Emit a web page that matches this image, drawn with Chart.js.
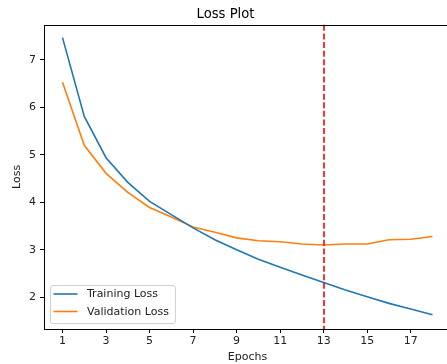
<!DOCTYPE html>
<html>
<head>
<meta charset="utf-8">
<script src="https://cdn.jsdelivr.net/npm/chart.js@4/dist/chart.umd.min.js"></script>
<style>
  html, body { margin: 0; padding: 0; background: #fff; overflow: hidden; }
  #wrap { width: 452px; height: 364px; }
</style>
</head>
<body>
<div id="wrap"><canvas id="chart"></canvas></div>
<script>
const epochs = [1, 2, 3, 4, 5, 6, 7, 8, 9, 10, 11, 12, 13, 14, 15, 16, 17, 18];
const trainLoss = [7.47, 5.81, 4.94, 4.42, 4.02, 3.74, 3.46, 3.21, 3.0, 2.8, 2.63, 2.47, 2.31, 2.15, 2.01, 1.87, 1.75, 1.63];
const valLoss = [6.53, 5.2, 4.61, 4.21, 3.89, 3.69, 3.48, 3.37, 3.25, 3.19, 3.17, 3.12, 3.1, 3.12, 3.12, 3.21, 3.22, 3.28];
const xTicks = [1, 3, 5, 7, 9, 11, 13, 15, 17];
const yTicks = [2, 3, 4, 5, 6, 7];
const bestEpoch = 13;

const FONT = "'DejaVu Sans', sans-serif";

// frame, red marker line and the boxed legend
const extras = {
  id: "extras",
  afterDatasetsDraw(chart) {
    const { ctx, chartArea: a, scales } = chart;
    ctx.save();

    const xb = Math.round(scales.x.getPixelForValue(bestEpoch));
    ctx.strokeStyle = "red";
    ctx.lineWidth = 1.6;
    ctx.setLineDash([6, 2.6]);
    ctx.beginPath();
    ctx.moveTo(xb, a.top);
    ctx.lineTo(xb, a.bottom);
    ctx.stroke();
    ctx.setLineDash([]);

    ctx.strokeStyle = "#000";
    ctx.lineWidth = 1;
    ctx.strokeRect(Math.round(a.left) + 0.5, Math.round(a.top) + 0.5,
      Math.round(a.right - a.left), Math.round(a.bottom - a.top));

    // legend
    ctx.font = "11px " + FONT;
    const sets = chart.data.datasets;
    const textW = Math.max(...sets.map((d) => ctx.measureText(d.label).width));
    const bx = a.left + 6, rowH = 17.5;
    const bh = 38;
    const by = a.bottom - 6 - bh;
    const bw = 37 + textW + 6;
    ctx.fillStyle = "rgba(255,255,255,0.8)";
    ctx.strokeStyle = "#d0d0d0";
    ctx.beginPath();
    ctx.roundRect(bx + 0.5, by + 0.5, bw, bh, 2.5);
    ctx.fill();
    ctx.stroke();
    sets.forEach((d, i) => {
      const yy = by + 9 + i * rowH;
      ctx.strokeStyle = d.borderColor;
      ctx.lineWidth = 1.6;
      ctx.beginPath();
      ctx.moveTo(bx + 3.5, yy);
      ctx.lineTo(bx + 27.5, yy);
      ctx.stroke();
      ctx.fillStyle = "#222";
      ctx.textBaseline = "middle";
      ctx.textAlign = "left";
      ctx.fillText(d.label, bx + 37, yy + 0.5);
    });
    ctx.restore();
  },
};

new Chart(document.getElementById("chart"), {
  type: "line",
  data: {
    labels: epochs,
    datasets: [
      {
        label: "Training Loss",
        data: epochs.map((e, i) => ({ x: e, y: trainLoss[i] })),
        borderColor: "#1f77b4",
        borderWidth: 1.6,
        pointRadius: 0,
        tension: 0,
      },
      {
        label: "Validation Loss",
        data: epochs.map((e, i) => ({ x: e, y: valLoss[i] })),
        borderColor: "#ff7f0e",
        borderWidth: 1.6,
        pointRadius: 0,
        tension: 0,
      },
    ],
  },
  options: {
    animation: false,
    responsive: true,
    maintainAspectRatio: false,
    layout: { padding: { left: 0, right: 1, top: 0, bottom: 0 } },
    plugins: {
      legend: { display: false },
      tooltip: { enabled: false },
      title: {
        display: true,
        text: "Loss Plot",
        color: "#000",
        font: { family: FONT, size: 13.2, weight: "normal", lineHeight: 1.2 },
        padding: { top: 7, bottom: 2 },
      },
    },
    scales: {
      x: {
        type: "linear",
        min: 0.15,
        max: 18.85,
        afterBuildTicks: (s) => { s.ticks = xTicks.map((v) => ({ value: v })); },
        afterFit: (s) => { s.height = 35; },
        border: { display: false },
        grid: { drawOnChartArea: false, drawTicks: true, tickLength: 4, tickColor: "#000" },
        ticks: { color: "#222", font: { family: FONT, size: 11 }, padding: 2, maxRotation: 0, autoSkip: false },
        title: {
          display: true,
          text: "Epochs",
          color: "#222",
          font: { family: FONT, size: 11 },
          padding: { top: 0, bottom: 0 },
        },
      },
      y: {
        min: 1.33,
        max: 7.74,
        afterBuildTicks: (s) => { s.ticks = yTicks.map((v) => ({ value: v })); },
        afterFit: (s) => { s.width = 44; },
        border: { display: false },
        grid: { drawOnChartArea: false, drawTicks: true, tickLength: 4, tickColor: "#000" },
        ticks: { color: "#222", font: { family: FONT, size: 11 }, padding: 4 },
        title: {
          display: true,
          text: "Loss",
          color: "#222",
          font: { family: FONT, size: 11 },
          padding: { top: 11, bottom: 0 },
        },
      },
    },
  },
  plugins: [extras],
});
</script>
</body>
</html>
